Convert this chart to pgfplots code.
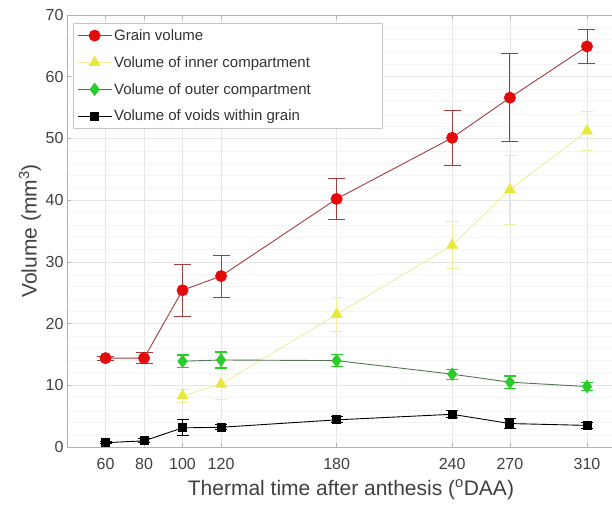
\documentclass[border=0pt]{standalone}
\usepackage{fontspec}
\setmainfont{Liberation Sans}
\usepackage{pgfplots}
\pgfplotsset{compat=1.18}

\definecolor{txtgray}{RGB}{64,64,64}
\definecolor{redline}{RGB}{160,62,62}
\definecolor{redmark}{RGB}{228,10,10}
\definecolor{yelmark}{RGB}{232,232,60}
\definecolor{yelline}{RGB}{238,238,160}
\definecolor{grnmark}{RGB}{40,205,40}
\definecolor{grnline}{RGB}{80,120,80}

% legend text padded to the width of the boxed legend
\newcommand{\lent}[1]{\makebox[262pt][l]{#1}}

\begin{document}
\begin{tikzpicture}
\begin{axis}[
    scale only axis,
    width=545pt, height=432pt,
    xmin=40, xmax=323,
    ymin=0, ymax=70,
    xtick={60,80,100,120,180,240,270,310},
    ytick={0,10,...,70},
    minor y tick num=4,
    minor tick length=0pt,
    major tick length=4pt,
    tick align=inside,
    grid=both,
    major grid style={gray!20, line width=0.5pt},
    minor grid style={gray!9, line width=0.4pt},
    axis x line*=box,
    axis y line*=left,
    every outer y axis line/.append style={-},
    every outer x axis line/.append style={-},
    axis line style={gray!60, line width=0.8pt},
    tick style={gray!60, line width=0.6pt},
    ticklabel style={font=\fontsize{16}{18}\selectfont, text=txtgray},
    xticklabel style={yshift=-8pt},
    /pgf/number format/assume math mode=true,
    xlabel={Thermal time after anthesis (\textsuperscript{o}DAA)},
    ylabel={Volume (mm\textsuperscript{3})},
    label style={font=\fontsize{21}{24}\selectfont, text=txtgray},
    xlabel style={at={(axis description cs:0.521,-0.099)}, anchor=center},
    ylabel style={at={(axis description cs:-0.068,0.5)}, anchor=center},
    legend cell align=left,
    legend style={at={(axis description cs:0.011,0.981)}, anchor=north west,
        draw=gray!45, fill=white, font=\fontsize{15}{17}\selectfont,
        text=black!80, row sep=10.5pt, inner xsep=4pt, inner ysep=4pt},
    legend image code/.code={
        \draw[mark repeat=2, mark phase=2] plot coordinates {(0pt,0pt)(17pt,0pt)(34pt,0pt)};},
]

\addplot[redline, line width=0.9pt, mark=*, mark size=5.5pt,
    mark options={fill=redmark, draw=redmark},
    error bars/.cd, y dir=both, y explicit,
    error bar style={redline, line width=0.9pt},
    error mark options={rotate=90, redline, mark size=8.5pt, line width=0.9pt}]
    table[x=x, y=y, y error=e] {
x y e
60 14.4 0.3
80 14.4 0.9
100 25.4 4.2
120 27.7 3.4
180 40.2 3.3
240 50.1 4.4
270 56.6 7.1
310 64.9 2.8
};
\addlegendentry{\lent{Grain volume}}

\addplot[yelline, line width=0.9pt, mark=triangle*, mark size=6pt,
    mark options={fill=yelmark, draw=yelmark},
    error bars/.cd, y dir=both, y explicit,
    error bar style={yelline, line width=0.9pt},
    error mark options={rotate=90, yelline, mark size=6pt, line width=0.9pt}]
    table[x=x, y=y, y error=e] {
x y e
100 8.3 1.0
120 10.2 2.5
180 21.5 2.7
240 32.7 3.8
270 41.7 5.6
310 51.2 3.1
};
\addlegendentry{\lent{Volume of inner compartment}}

\addplot[grnline, line width=0.9pt, mark=diamond*, mark size=6pt,
    mark options={fill=grnmark, draw=grnmark},
    error bars/.cd, y dir=both, y explicit,
    error bar style={grnmark, line width=1.2pt},
    error mark options={rotate=90, grnmark, mark size=6pt, line width=1.2pt}]
    table[x=x, y=y, y error=e] {
x y e
100 13.9 1.0
120 14.1 1.3
180 14.0 1.0
240 11.8 0.8
270 10.5 1.0
310 9.8 0.7
};
\addlegendentry{\lent{Volume of outer compartment}}

\addplot[black, line width=0.9pt, mark=square*, mark size=4pt,
    mark options={fill=black, draw=black},
    error bars/.cd, y dir=both, y explicit,
    error bar style={black, line width=1pt},
    error mark options={rotate=90, black, mark size=6pt, line width=1pt}]
    table[x=x, y=y, y error=e] {
x y e
60 0.7 0.2
80 1.0 0.3
100 3.1 1.3
120 3.2 0.4
180 4.4 0.5
240 5.3 0.6
270 3.8 0.8
310 3.5 0.5
};
\addlegendentry{\lent{Volume of voids within grain}}
\end{axis}
\pgfresetboundingbox
\path ([xshift=-67pt,yshift=-59pt]current axis.south west)
    rectangle ([yshift=15pt]current axis.north east);
\end{tikzpicture}
\end{document}
